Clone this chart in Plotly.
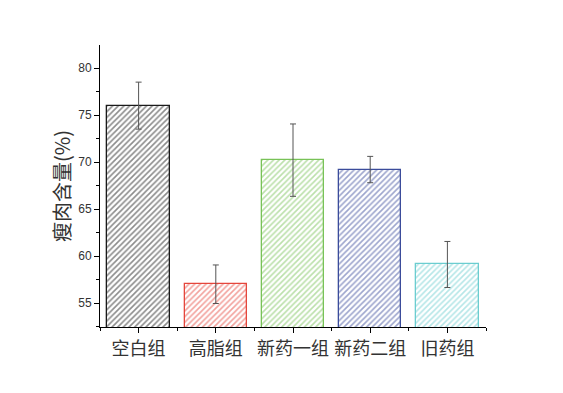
import plotly.graph_objects as go

categories = ["空白组", "高脂组", "新药一组", "新药二组", "旧药组"]
values = [76.0, 57.0, 70.2, 69.2, 59.1]
errors = [2.5, 2.05, 3.85, 1.4, 2.45]
colors = ["#1a1a1a", "#e5463c", "#78c257", "#3b4c9b", "#6bcdd0"]

x_pos = list(range(len(categories)))

fig = go.Figure()
for i in x_pos:
    fig.add_trace(go.Bar(
        x=[i], y=[values[i]], width=0.81,
        marker=dict(color="white", line=dict(color=colors[i], width=1.3),
                    pattern=dict(shape="/", fgcolor=colors[i], bgcolor="white",
                                 size=4, solidity=0.4)),
        error_y=dict(type="data", array=[errors[i]], color="#555555",
                     thickness=1, width=3),
        showlegend=False,
    ))

cjk = "Noto Sans CJK SC"
fig.update_layout(
    width=555, height=385,
    margin=dict(l=92, r=77, t=37, b=66),
    plot_bgcolor="white", paper_bgcolor="white",
    font=dict(family="Liberation Sans, Arial, sans-serif", color="#222222"),
    bargap=0,
    xaxis=dict(
        range=[-0.5, 4.5], tickmode="array", tickvals=x_pos, ticktext=categories,
        tickfont=dict(size=18, family=cjk, color="#333333"),
        showline=True, linecolor="#000000", linewidth=1,
        ticks="outside", ticklen=5, tickcolor="#000000",
        minor=dict(tickmode="array", tickvals=[-0.5, 0.5, 1.5, 2.5, 3.5, 4.5],
                   ticks="outside", ticklen=3, tickcolor="#000000"),
        showgrid=False, zeroline=False, automargin=False,
    ),
    yaxis=dict(
        range=[52.45, 82.45], tickmode="linear", tick0=55, dtick=5,
        tickfont=dict(size=12, color="#333333"),
        showline=True, linecolor="#000000", linewidth=1,
        ticks="outside", ticklen=5, tickcolor="#000000",
        minor=dict(dtick=2.5, tick0=52.5, ticks="outside", ticklen=3, tickcolor="#000000"),
        showgrid=False, zeroline=False, automargin=False,
        title=dict(text="瘦肉含量(%)", font=dict(size=20, family=cjk, color="#333333"), standoff=2),
    ),
)

fig.write_html("out.html")
